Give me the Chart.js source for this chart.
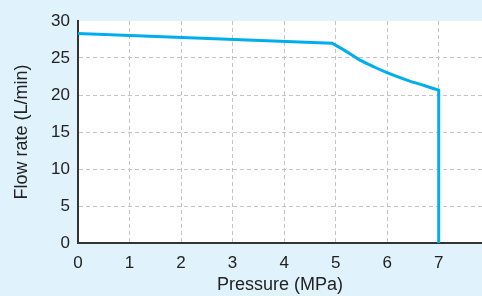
<!DOCTYPE html>
<html><head><meta charset="utf-8">
<script src="https://cdn.jsdelivr.net/npm/chart.js@4/dist/chart.umd.min.js"></script>
<style>html,body{margin:0;padding:0;background:#e0f2fb;overflow:hidden;}canvas{display:block;}</style>
</head><body>
<canvas id="c" width="482" height="296"></canvas>
<script>
const pressure = [0, 4.93, 5.18, 5.44, 5.76, 6.02, 6.41, 6.73, 7.0, 7.0];
const flowRate = [28.3, 27.0, 26.0, 24.85, 23.75, 22.95, 21.95, 21.25, 20.65, 0];
const xTicks = [0, 1, 2, 3, 4, 5, 6, 7];
const yTicks = [0, 5, 10, 15, 20, 25, 30];
const xTitle = 'Pressure (MPa)';
const yTitle = 'Flow rate (L/min)';

const pts = pressure.map((p, i) => ({x: p, y: flowRate[i]}));
const lineStyle = {borderColor: '#00aeef', borderWidth: 3, pointRadius: 0, fill: false, borderCapStyle: 'round', borderJoinStyle: 'round'};

const plotBg = {
  id: 'plotBg',
  beforeDraw(chart) {
    const {ctx, chartArea: a} = chart;
    ctx.save();
    ctx.fillStyle = '#e0f2fb';
    ctx.fillRect(0, 0, chart.width, chart.height);
    ctx.fillStyle = '#ffffff';
    ctx.fillRect(a.left, a.top, a.right - a.left, a.bottom - a.top);
    ctx.restore();
  }
};

const tickFont = {family: 'Liberation Sans, Arial, sans-serif', size: 17};
const titleFont = {family: 'Liberation Sans, Arial, sans-serif', size: 18};

new Chart(document.getElementById('c'), {
  type: 'line',
  data: {
    datasets: [
      Object.assign({data: pts.slice(0, 2), tension: 0}, lineStyle),
      Object.assign({data: pts.slice(1, pts.length - 1), cubicInterpolationMode: 'monotone'}, lineStyle),
      Object.assign({data: pts.slice(pts.length - 2), tension: 0}, lineStyle)
    ]
  },
  options: {
    responsive: false,
    animation: false,
    layout: {padding: {top: 21, right: 0, left: 0, bottom: 0}},
    plugins: {legend: {display: false}, tooltip: {enabled: false}},
    scales: {
      x: {
        type: 'linear', min: 0, max: 7.84,
        afterBuildTicks: s => { s.ticks = xTicks.map(v => ({value: v})); },
        afterFit: s => { s.height = 53; },
        grid: {color: c => (c.tick && c.tick.value === 0) ? 'transparent' : '#c4c4c4', lineWidth: 1, drawTicks: false},
        border: {display: true, color: '#333333', width: 2, dash: [4, 3]},
        ticks: {color: '#222222', font: tickFont, padding: 10, maxRotation: 0},
        title: {display: true, text: xTitle, color: '#222222', font: titleFont, padding: {top: 0, bottom: 0}}
      },
      y: {
        type: 'linear', min: 0, max: 30,
        afterBuildTicks: s => { s.ticks = yTicks.map(v => ({value: v})); },
        afterFit: s => { s.width = 78; },
        grid: {color: c => (c.tick && (c.tick.value === 0 || c.tick.value === 30)) ? 'transparent' : '#c4c4c4', lineWidth: 1, drawTicks: false},
        border: {display: true, color: '#333333', width: 2, dash: [4, 3]},
        ticks: {color: '#222222', font: tickFont, padding: 8},
        title: {display: true, text: yTitle, color: '#222222', font: titleFont, padding: {top: 11, bottom: 0}}
      }
    }
  },
  plugins: [plotBg]
});
</script>
</body></html>
